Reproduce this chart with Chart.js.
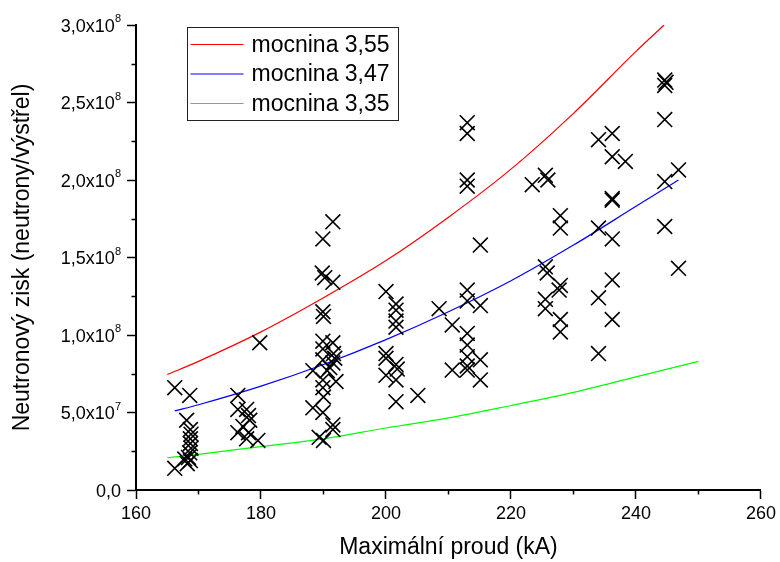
<!DOCTYPE html>
<html>
<head>
<meta charset="utf-8">
<script src="https://cdn.jsdelivr.net/npm/chart.js@4.4.1/dist/chart.umd.min.js"></script>
<style>
  html, body { margin: 0; padding: 0; background: #fff; }
</style>
</head>
<body>
<canvas id="chart" width="780" height="562"></canvas>
<script>
// Shots: peak current (kA) and neutron yield (neutrons per shot)
const shotCurrent = [
  166.2, 168.6, 168.1, 168.7, 168.8, 168.7, 168.7, 168.8, 168.6, 168.4, 168.7, 168.2, 166.2, 167.8,
  176.3, 179.8, 176.3, 177.7, 178.0, 178.2, 177.1, 176.3, 178.0, 177.7, 179.5,
  191.5, 189.9, 189.8, 190.2, 191.5, 189.9, 190.0, 189.9, 191.5, 189.9, 191.6, 188.3, 189.9, 191.5,
  190.6, 189.9, 192.0, 189.9, 190.0, 188.3, 189.9, 191.5, 191.5, 189.3, 190.0, 191.0, 191.8,
  200.0, 201.6, 201.6, 201.6, 201.6, 200.0, 200.0, 201.6, 201.8, 200.0, 201.6, 201.6, 205.1,
  208.5, 210.6, 210.6, 213.0, 213.0, 213.0, 213.0, 215.1, 213.0, 213.0, 215.1, 213.0, 213.0,
  213.0, 215.1, 213.0, 213.0, 215.1,
  223.4, 225.5, 225.9, 227.9, 227.9, 225.5, 225.8, 227.9, 227.7, 225.5, 225.5, 227.9, 227.9,
  234.0, 236.2, 236.2, 238.3, 236.2, 236.2, 234.0, 236.2, 236.2, 234.0, 236.2, 234.0,
  244.6, 244.6, 244.8, 244.6, 246.8, 244.6, 244.6, 246.8
];
const shotYield = [
  0.66e8, 0.61e8, 0.45e8, 0.39e8, 0.36e8, 0.33e8, 0.30e8, 0.27e8, 0.24e8, 0.21e8, 0.19e8, 0.17e8, 0.14e8, 0.20e8,
  0.61e8, 0.95e8, 0.52e8, 0.52e8, 0.48e8, 0.45e8, 0.41e8, 0.37e8, 0.37e8, 0.33e8, 0.32e8,
  1.73e8, 1.62e8, 1.40e8, 1.37e8, 1.34e8, 1.15e8, 1.12e8, 0.96e8, 0.95e8, 0.91e8, 0.88e8, 0.77e8, 0.84e8, 0.82e8,
  0.77e8, 0.71e8, 0.70e8, 0.66e8, 0.60e8, 0.53e8, 0.50e8, 0.42e8, 0.39e8, 0.34e8, 0.32e8, 0.79e8, 0.85e8,
  1.28e8, 1.20e8, 1.16e8, 1.09e8, 1.05e8, 0.88e8, 0.85e8, 0.81e8, 0.78e8, 0.74e8, 0.71e8, 0.57e8, 0.61e8,
  1.17e8, 1.065e8, 0.774e8, 2.37e8, 2.30e8, 2.00e8, 1.96e8, 1.58e8, 1.29e8, 1.22e8, 1.19e8, 1.01e8, 0.935e8,
  0.86e8, 0.84e8, 0.80e8, 0.774e8, 0.71e8,
  1.97e8, 2.03e8, 2.00e8, 1.77e8, 1.69e8, 1.44e8, 1.40e8, 1.32e8, 1.29e8, 1.23e8, 1.17e8, 1.10e8, 1.02e8,
  2.26e8, 2.30e8, 2.15e8, 2.12e8, 1.88e8, 1.87e8, 1.69e8, 1.62e8, 1.355e8, 1.24e8, 1.10e8, 0.88e8,
  2.645e8, 2.61e8, 2.63e8, 2.39e8, 2.065e8, 1.99e8, 1.70e8, 1.43e8
];

// Power-law fit curves (exponent 3.55, 3.47, 3.35)
const fitLabels = ['mocnina 3,55', 'mocnina 3,47', 'mocnina 3,35'];
const fitColors = ['#ff0000', '#0000ff', '#00ff00'];
const fitCurrentA = [165, 170, 180, 190, 200, 210, 220, 230, 240, 244.5];
const fitYieldA = [0.745e8, 0.83e8, 1.02e8, 1.24e8, 1.48e8, 1.76e8, 2.07e8, 2.43e8, 2.83e8, 3.0e8];
const fitCurrentB = [166.2, 170, 180, 190, 200, 210, 220, 230, 240, 246.8];
const fitYieldB = [0.51e8, 0.55e8, 0.67e8, 0.81e8, 0.97e8, 1.15e8, 1.35e8, 1.58e8, 1.83e8, 2.0e8];
const fitCurrentC = [165, 170, 180, 190, 200, 210, 220, 230, 240, 250];
const fitYieldC = [0.208e8, 0.23e8, 0.28e8, 0.33e8, 0.40e8, 0.465e8, 0.545e8, 0.63e8, 0.73e8, 0.83e8];

// Axis ticks
const xMajorLabels = [160, 180, 200, 220, 240, 260];
const yTickMantissa = ['0,0', '5,0', '1,0', '1,5', '2,0', '2,5', '3,0'];
const yTickExponent = ['', '7', '8', '8', '8', '8', '8'];

const FONT = "Arial, 'Liberation Sans', sans-serif";
Chart.defaults.font.family = FONT;
Chart.defaults.color = '#000';

const toPoints = (xs, ys) => xs.map((x, i) => ({ x, y: ys[i] }));

function fitDataset(i, xs, ys) {
  return {
    label: fitLabels[i],
    data: toPoints(xs, ys),
    showLine: true,
    borderColor: fitColors[i],
    backgroundColor: fitColors[i],
    borderWidth: 1.2,
    pointRadius: 0,
    cubicInterpolationMode: 'monotone',
    isFit: true
  };
}

// Minor ticks, y labels with superscript exponent, and the in-plot legend
const decorations = {
  id: 'decorations',
  afterDraw(chart) {
    const { ctx, chartArea, scales: { x, y } } = chart;
    ctx.save();
    ctx.strokeStyle = '#000';
    ctx.lineWidth = 1.5;
    ctx.beginPath();
    x.ticks.forEach(t => {
      if (t.value % 20 !== 0) {
        const px = Math.round(x.getPixelForValue(t.value)) + 0.5;
        ctx.moveTo(px, chartArea.bottom);
        ctx.lineTo(px, chartArea.bottom + 4.5);
      }
    });
    y.ticks.forEach(t => {
      if (Math.round(t.value / 0.25e8) % 2 === 1) {
        const py = Math.round(y.getPixelForValue(t.value)) + 0.5;
        ctx.moveTo(chartArea.left, py);
        ctx.lineTo(chartArea.left - 4.5, py);
      }
    });
    ctx.stroke();

    // y tick labels
    const right = chartArea.left - 15;
    ctx.fillStyle = '#000';
    ctx.textBaseline = 'alphabetic';
    yTickMantissa.forEach((m, i) => {
      const py = y.getPixelForValue(i * 0.5e8);
      const base = py + 6.5;
      const exp = yTickExponent[i];
      ctx.font = '11px ' + FONT;
      const expW = exp ? ctx.measureText(exp).width : 0;
      ctx.font = '18px ' + FONT;
      const main = exp ? m + 'x10' : m;
      const mainW = ctx.measureText(main).width;
      ctx.textAlign = 'left';
      ctx.fillText(main, right - expW - mainW, base);
      if (exp) {
        ctx.font = '11px ' + FONT;
        ctx.fillText(exp, right - expW, base - 9.5);
      }
    });

    // legend
    const box = { left: 187.5, top: 27.5, width: 211, height: 93 };
    ctx.lineWidth = 1;
    ctx.strokeStyle = '#222';
    ctx.strokeRect(box.left, box.top, box.width, box.height);
    ctx.font = '23px ' + FONT;
    ctx.textBaseline = 'middle';
    ctx.textAlign = 'left';
    chart.data.datasets.filter(d => d.isFit).forEach((d, i) => {
      const ly = box.top + 17 + i * 29.5;
      ctx.strokeStyle = d.borderColor;
      ctx.lineWidth = 1.2;
      ctx.beginPath();
      ctx.moveTo(box.left + 3, ly);
      ctx.lineTo(box.left + 56, ly);
      ctx.stroke();
      ctx.fillStyle = '#000';
      ctx.fillText(d.label, box.left + 64, ly + 1);
    });
    ctx.restore();
  }
};

new Chart(document.getElementById('chart'), {
  type: 'scatter',
  data: {
    datasets: [
      {
        label: 'výstřely',
        data: toPoints(shotCurrent, shotYield),
        pointStyle: 'crossRot',
        pointRadius: 10.5,
        borderColor: '#000',
        backgroundColor: '#000',
        borderWidth: 1.6
      },
      fitDataset(0, fitCurrentA, fitYieldA),
      fitDataset(1, fitCurrentB, fitYieldB),
      fitDataset(2, fitCurrentC, fitYieldC)
    ]
  },
  options: {
    responsive: false,
    animation: false,
    layout: { padding: { top: 25, right: 17, left: 0, bottom: 0 } },
    plugins: { legend: { display: false }, tooltip: { enabled: false } },
    scales: {
      x: {
        type: 'linear',
        min: 160,
        max: 260,
        afterFit: s => { s.height = 72; },
        ticks: {
          stepSize: 10,
          autoSkip: false,
          maxRotation: 0,
          padding: 4,
          font: { size: 18 },
          callback: v => (xMajorLabels.includes(v) ? String(v) : '')
        },
        grid: {
          drawOnChartArea: false,
          tickLength: 9,
          tickWidth: 1.5,
          tickColor: c => (c.tick && c.tick.value % 20 === 0 ? '#000' : 'rgba(0,0,0,0)')
        },
        border: { color: '#000', width: 2 },
        title: {
          display: true,
          text: 'Maximální proud (kA)',
          font: { size: 23 },
          padding: { top: 0, bottom: 1 }
        }
      },
      y: {
        type: 'linear',
        min: 0,
        max: 3e8,
        afterFit: s => { s.width = 136; },
        ticks: {
          stepSize: 0.25e8,
          autoSkip: false,
          callback: () => ''
        },
        grid: {
          drawOnChartArea: false,
          tickLength: 9,
          tickWidth: 1.5,
          tickColor: c => (c.tick && Math.round(c.tick.value / 0.25e8) % 2 === 0 ? '#000' : 'rgba(0,0,0,0)')
        },
        border: { color: '#000', width: 2 },
        title: {
          display: true,
          text: 'Neutronový zisk (neutrony/výstřel)',
          font: { size: 23 },
          padding: { top: 9, bottom: 0 }
        }
      }
    }
  },
  plugins: [decorations]
});
</script>
</body>
</html>
